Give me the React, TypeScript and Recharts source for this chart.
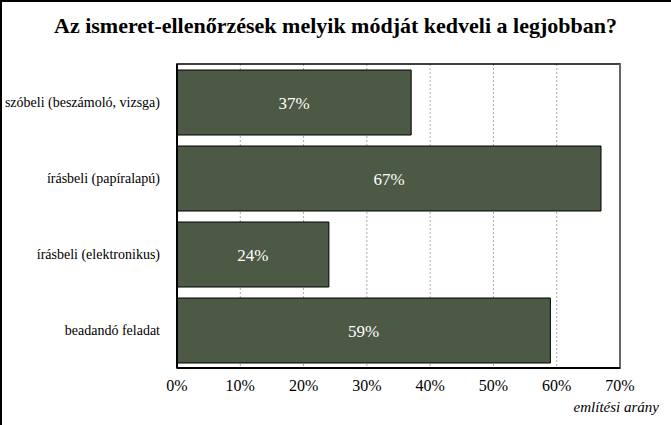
import { BarChart, Bar, XAxis, YAxis, CartesianGrid, LabelList, ReferenceArea, ReferenceLine } from 'recharts'

const categories = [
  'szóbeli (beszámoló, vizsga)',
  'írásbeli (papíralapú)',
  'írásbeli (elektronikus)',
  'beadandó feladat',
]
const shares = [37, 67, 24, 59]
const xTicks = [0, 10, 20, 30, 40, 50, 60, 70]

const title = 'Az ismeret-ellenőrzések melyik módját kedveli a legjobban?'
const axisTitle = 'említési arány'

const data = categories.map((name, i) => ({ name, value: shares[i] }))

const serif = 'Liberation Serif'
const barColor = '#4c5944'

const fontCss = `
#root .chart-root, #root .chart-root *, #root .chart-root text {
  font-family: 'Liberation Serif', serif !important;
}
`

// category labels on one line, no wrapping
const CategoryTick = (props: any) => {
  const { x, y, payload } = props
  return (
    <text x={x - 9} y={y} dy="0.35em" textAnchor="end" fill="#000" fontFamily={serif} fontSize={14}>
      {payload.value}
    </text>
  )
}

const ValueTick = (props: any) => {
  const { x, y, payload } = props
  return (
    <text x={x} y={y + 4} dy="0.71em" textAnchor="middle" fill="#000" fontFamily={serif} fontSize={16}>
      {`${payload.value}%`}
    </text>
  )
}

export default function App() {
  return (
    <div
      className="chart-root"
      style={{
        position: 'absolute',
        left: 0,
        top: 0,
        width: 671,
        height: 425,
        background: '#fff',
        borderLeft: '2px solid #000',
        borderTop: '2px solid #000',
        boxSizing: 'border-box',
        fontFamily: serif,
      }}
    >
      <style>{fontCss}</style>
      <div
        style={{
          position: 'absolute',
          left: -2,
          top: 11,
          width: 671,
          textAlign: 'center',
          fontSize: 22,
          fontWeight: 'bold',
          color: '#000',
        }}
      >
        {title}
      </div>
      <div style={{ position: 'absolute', left: -2, top: -2 }}>
        <BarChart
          width={671}
          height={425}
          data={data}
          layout="vertical"
          margin={{ top: 64, right: 51, bottom: 27, left: 0 }}
        >
          <CartesianGrid horizontal={false} stroke="#aaa" strokeDasharray="2 2" />
          <ReferenceArea x1={0} x2={70} fill="none" stroke="#000" strokeWidth={1.5} ifOverflow="visible" />
          <ReferenceLine x={70} stroke="#6b6560" strokeWidth={2} ifOverflow="visible" />
          <XAxis
            type="number"
            domain={[0, 70]}
            ticks={xTicks}
            tickLine={false}
            height={30}
            axisLine={{ stroke: '#000', strokeWidth: 2 }}
            tick={<ValueTick />}
            interval={0}
          />
          <YAxis
            type="category"
            dataKey="name"
            width={177}
            tickLine={false}
            axisLine={{ stroke: '#000', strokeWidth: 2 }}
            tick={<CategoryTick />}
          />
          <Bar dataKey="value" fill={barColor} stroke="#000" strokeWidth={1} barSize={65} isAnimationActive={false}>
            <LabelList
              dataKey="value"
              position="center"
              formatter={(v: any) => `${v}%`}
              fill="#fff"
              fontFamily={serif}
              fontSize={17}
            />
          </Bar>
        </BarChart>
      </div>
      <div
        style={{
          position: 'absolute',
          right: 12,
          top: 397,
          fontSize: 15,
          fontStyle: 'italic',
          color: '#000',
        }}
      >
        {axisTitle}
      </div>
    </div>
  )
}
